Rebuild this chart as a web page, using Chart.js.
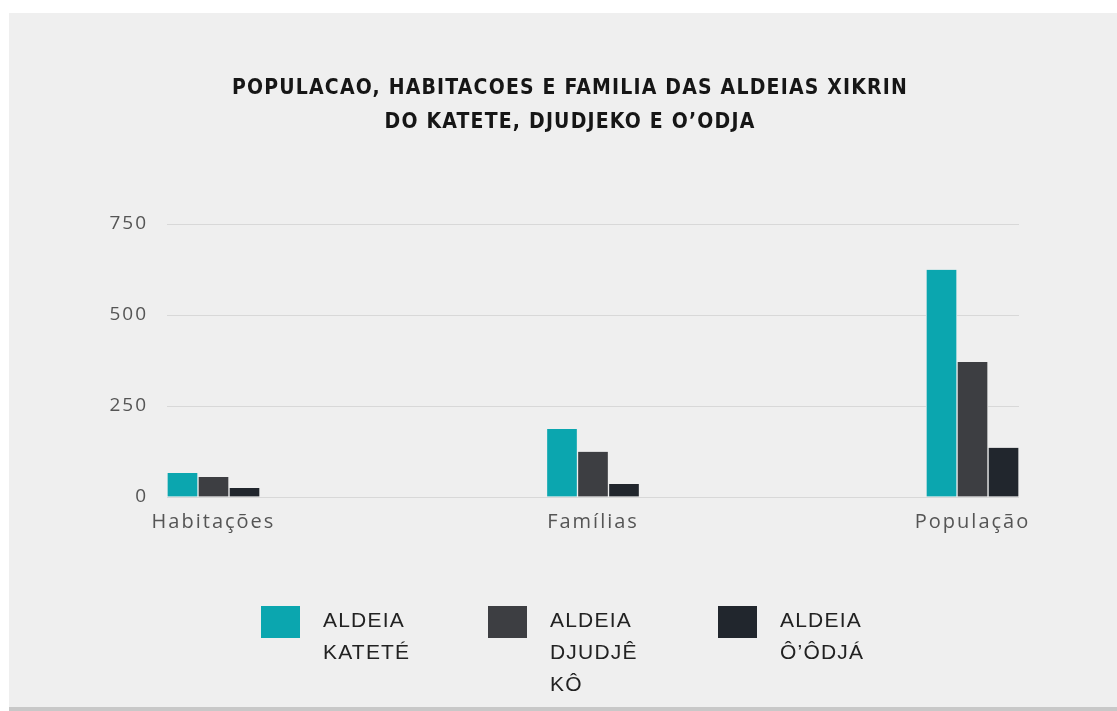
<!DOCTYPE html>
<html>
<head>
<meta charset="utf-8">
<script src="https://cdn.jsdelivr.net/npm/chart.js@4/dist/chart.umd.min.js"></script>
<style>
	body { margin: 0; background: #ffffff; width: 1117px; height: 711px; overflow: hidden; }
	#card { position: absolute; left: 9px; top: 13px; width: 1108px; height: 694px; background: #efefef; border-bottom: 4px solid #c8c8c8; }
	#chart_box { position: absolute; left: 0; top: 0; width: 1108px; height: 694px; }
	#legend_box { position: absolute; left: 252px; top: 593px; display: flex; }
	.legend_item { width: 230px; display: flex; align-items: flex-start; }
	.legend_item:first-child { width: 227px; }
	.legend_swatch { width: 39px; height: 32px; flex: none; }
	.legend_text { margin-left: 23px; margin-top: -2px; width: 110px; font-family: 'Liberation Sans', Arial, sans-serif; font-size: 21px; line-height: 32px; letter-spacing: 1.2px; color: #222222; }
</style>
</head>
<body>
<div id="card">
	<div id="chart_box"><canvas id="xikrin_chart"></canvas></div>
	<div id="legend_box"></div>
</div>
<script>
// dados
var categories = ['Habitações', 'Famílias', 'População'];
var series_names = ['ALDEIA KATETÉ', 'ALDEIA DJUDJÊ KÔ', 'ALDEIA Ô’ÔDJÁ'];
var values_katete = [66, 187, 624];
var values_djudjeko = [55, 124, 371];
var values_oodja = [25, 36, 135];
var series_colors = ['#0ba6af', '#3d3e42', '#21262d'];
var y_ticks = [0, 250, 500, 750];
var chart_title = ['POPULACAO, HABITACOES E FAMILIA DAS ALDEIAS XIKRIN', 'DO KATETE, DJUDJEKO E O’ODJA'];

var all_values = [values_katete, values_djudjeko, values_oodja];

function xikrin_points(values)
{
	var points = [];
	for (var i = 0; i < categories.length; i++)
		points.push({x: i, y: values[i]});
	return points;
}

var chart_data = {datasets: []};
for (var s = 0; s < series_names.length; s++)
{
	chart_data.datasets.push({
		label: series_names[s],
		data: xikrin_points(all_values[s]),
		backgroundColor: series_colors[s],
		borderColor: '#efefef',
		borderWidth: {top: 0, bottom: 0, left: 1, right: 1},
		borderSkipped: false,
		barThickness: 31
	});
}

// espacamento das letras como na imagem, e titulo centrado como no original
var letter_spacing_plugin = {
	id: 'letter_spacing',
	beforeLayout: function(chart) { chart.ctx.letterSpacing = '2px'; },
	afterLayout: function(chart) { if (chart.titleBlock) chart.titleBlock.left = 112; },
	beforeDraw: function(chart) { chart.ctx.letterSpacing = '2px'; }
};

var chart_options = {
	animation: false,
	responsive: true,
	maintainAspectRatio: false,
	layout: {padding: {left: 0, right: 98, top: 0, bottom: 0}},
	plugins: {
		legend: {display: false},
		tooltip: {enabled: false},
		title: {
			display: true,
			text: chart_title,
			color: '#161616',
			font: {family: "'Liberation Sans Narrow', 'DejaVu Sans Condensed', sans-serif", size: 21, weight: 'bold', lineHeight: '34px'},
			padding: {top: 59, bottom: 84}
		}
	},
	scales: {
		x: {
			type: 'linear',
			offset: false,
			min: -0.1225,
			max: 2.1225,
			grid: {display: false},
			border: {display: false},
			afterBuildTicks: function(scale) {
				scale.ticks = categories.map(function(c, i) { return {value: i}; });
			},
			afterFit: function(scale) { scale.height = 210; },
			ticks: {
				padding: 5,
				color: '#555555',
				font: {family: "'Open Sans', sans-serif", size: 20},
				callback: function(value) { return categories[value]; }
			}
		},
		y: {
			min: y_ticks[0],
			max: y_ticks[y_ticks.length - 1],
			grid: {color: '#d8d8d8', lineWidth: 1, drawTicks: false},
			border: {display: false},
			afterBuildTicks: function(scale) {
				scale.ticks = y_ticks.map(function(v) { return {value: v}; });
			},
			afterFit: function(scale) { scale.width = 158; },
			ticks: {
				padding: 19,
				color: '#555555',
				font: {family: "'Open Sans', sans-serif", size: 19}
			}
		}
	}
};

var ctx = document.getElementById('xikrin_chart').getContext('2d');
var xikrin_chart = new Chart(ctx, {type: 'bar', data: chart_data, options: chart_options, plugins: [letter_spacing_plugin]});

// o titulo tem menos espaco entre letras
var title_block = xikrin_chart.titleBlock;
var title_draw = title_block.draw;
title_block.draw = function()
{
	this.ctx.save();
	this.ctx.letterSpacing = '1.2px';
	title_draw.apply(this, arguments);
	this.ctx.restore();
};
xikrin_chart.update('none');

// legenda em html, feita a partir dos datasets
function xikrin_render_legend()
{
	var box = document.getElementById('legend_box');
	xikrin_chart.data.datasets.forEach(function(ds)
	{
		var item = document.createElement('div');
		item.className = 'legend_item';
		var swatch = document.createElement('div');
		swatch.className = 'legend_swatch';
		swatch.style.background = ds.backgroundColor;
		var text = document.createElement('div');
		text.className = 'legend_text';
		text.textContent = ds.label;
		item.appendChild(swatch);
		item.appendChild(text);
		box.appendChild(item);
	});
}
xikrin_render_legend();
</script>
</body>
</html>
